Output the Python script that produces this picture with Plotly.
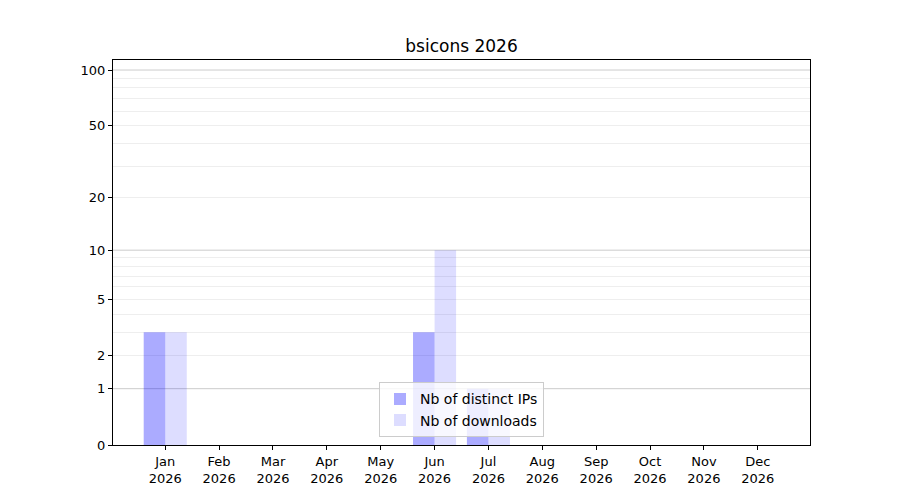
import math
import plotly.graph_objects as go

# Monthly stats for 2026
months = ['Jan', 'Feb', 'Mar', 'Apr', 'May', 'Jun', 'Jul', 'Aug', 'Sep', 'Oct', 'Nov', 'Dec']
year = 2026
distinct_ips = [3, 0, 0, 0, 0, 3, 1, 0, 0, 0, 0, 0]
downloads = [3, 0, 0, 0, 0, 10, 1, 0, 0, 0, 0, 0]

# Axis ticks (values, not positions)
label_ticks = [0, 1, 2, 5, 10, 20, 50, 100]
major_grid = [1, 10, 100]
minor_grid = [2, 3, 4, 5, 6, 7, 8, 9, 20, 30, 40, 50, 60, 70, 80, 90]


def scale(v):
    # log(1 + v) scale, so zero values stay on the axis
    return math.log10(v + 1)


x_labels = [f'{m}<br>{year}' for m in months]
y_range = [0, 2.058]

fig = go.Figure()
fig.add_trace(go.Bar(
    x=x_labels, y=[scale(v) for v in distinct_ips],
    name='Nb of distinct IPs', marker=dict(color='rgba(0,0,255,0.33)', line=dict(width=0)),
))
fig.add_trace(go.Bar(
    x=x_labels, y=[scale(v) for v in downloads],
    name='Nb of downloads', marker=dict(color='rgba(0,0,255,0.135)', line=dict(width=0)),
))

# darker grid lines on the decades
for v in major_grid:
    fig.add_hline(y=scale(v), line=dict(color='#cccccc', width=1), layer='below')

font = dict(family='DejaVu Sans', size=13, color='black')

# page body has an 8px margin, so shift the margins to compensate
fig.update_layout(
    width=900, height=500,
    paper_bgcolor='white', plot_bgcolor='white',
    margin=dict(l=105, r=98, t=52, b=63),
    font=font,
    title=dict(text=f'bsicons {year}', x=0.5, xref='paper', y=0.924, yref='container',
               xanchor='center', yanchor='middle', font=dict(size=17)),
    barmode='group', bargap=0.2, bargroupgap=0,
    showlegend=True,
    legend=dict(x=0.5, y=0.02, xanchor='center', yanchor='bottom',
                bgcolor='rgba(255,255,255,0.8)', bordercolor='#cccccc', borderwidth=1,
                font=dict(size=14)),
    xaxis=dict(
        range=[-0.97, 11.97], showgrid=False, zeroline=False,
        showline=True, linecolor='black', linewidth=1, mirror=True,
        ticks='outside', ticklen=4, tickcolor='black', tickangle=0,
    ),
    yaxis=dict(
        range=y_range, showgrid=False, zeroline=False,
        showline=True, linecolor='black', linewidth=1, mirror=True,
        ticks='outside', ticklen=4, tickcolor='black',
        tickmode='array', tickvals=[scale(v) for v in label_ticks],
        ticktext=[str(v) for v in label_ticks],
        minor=dict(tickmode='array', tickvals=[scale(v) for v in minor_grid],
                   showgrid=True, gridcolor='#eeeeee', gridwidth=1, ticks=''),
    ),
)

fig.write_html('out.html')
